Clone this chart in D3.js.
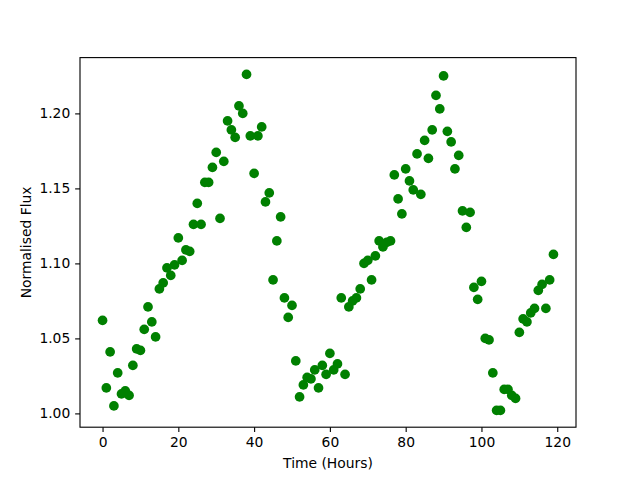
<!DOCTYPE html>
<html>
<head>
<meta charset="utf-8">
<script src="https://cdn.jsdelivr.net/npm/d3@7"></script>
<style>
  body { margin: 0; background: #fff; }
  svg { font-family: "DejaVu Sans", sans-serif; }
</style>
</head>
<body>
<div id="chart"></div>
<script>
// time in hours, one sample per hour
const hours = d3.range(0, 120);

const flux = [
  1.062, 1.017, 1.041, 1.005, 1.027, 1.013, 1.015, 1.012, 1.032, 1.043,
  1.042, 1.056, 1.071, 1.061, 1.051, 1.083, 1.087, 1.097, 1.092, 1.099,
  1.117, 1.102, 1.109, 1.108, 1.126, 1.140, 1.126, 1.154, 1.154, 1.164,
  1.174, 1.130, 1.168, 1.195, 1.189, 1.184, 1.205, 1.200, 1.226, 1.185,
  1.160, 1.185, 1.191, 1.141, 1.147, 1.089, 1.115, 1.131, 1.077, 1.064,
  1.072, 1.035, 1.011, 1.019, 1.024, 1.023, 1.029, 1.017, 1.032, 1.026,
  1.040, 1.029, 1.033, 1.077, 1.026, 1.071, 1.075, 1.077, 1.083, 1.100,
  1.102, 1.089, 1.105, 1.115, 1.111, 1.114, 1.115, 1.159, 1.143, 1.133,
  1.163, 1.155, 1.149, 1.173, 1.146, 1.182, 1.170, 1.189, 1.212, 1.203,
  1.225, 1.188, 1.181, 1.163, 1.172, 1.135, 1.124, 1.134, 1.084, 1.076,
  1.088, 1.050, 1.049, 1.027, 1.002, 1.002, 1.016, 1.016, 1.012, 1.010,
  1.054, 1.063, 1.061, 1.067, 1.070, 1.082, 1.086, 1.070, 1.089, 1.106
];

const xTicks = [0, 20, 40, 60, 80, 100, 120];
const yTicks = [1.00, 1.05, 1.10, 1.15, 1.20];

const width = 640, height = 480;
const margin = { top: 57.6, right: 64, bottom: 52.8, left: 80 };
const pt = 100 / 72;

const svg = d3.select("#chart").append("svg")
  .attr("width", width)
  .attr("height", height);

// matplotlib style 5% padding around the data
function padded(extent) {
  const pad = (extent[1] - extent[0]) * 0.05;
  return [extent[0] - pad, extent[1] + pad];
}

const x = d3.scaleLinear()
  .domain(padded(d3.extent(hours)))
  .range([margin.left, width - margin.right]);

const y = d3.scaleLinear()
  .domain(padded(d3.extent(flux)))
  .range([height - margin.bottom, margin.top]);

const data = hours.map((h, i) => [h, flux[i]]);

svg.append("g")
  .selectAll("circle")
  .data(data)
  .join("circle")
  .attr("cx", (d) => x(d[0]))
  .attr("cy", (d) => y(d[1]))
  .attr("r", 3 * pt + 0.5 * pt)
  .attr("fill", "#008000");

const fontSize = 10 * pt;

const xAxis = svg.append("g")
  .attr("transform", `translate(0,${height - margin.bottom})`)
  .call(d3.axisBottom(x).tickValues(xTicks).tickFormat(d3.format("d"))
    .tickSize(3.5 * pt).tickPadding(3.5 * pt).tickSizeOuter(0));

const yAxis = svg.append("g")
  .attr("transform", `translate(${margin.left},0)`)
  .call(d3.axisLeft(y).tickValues(yTicks).tickFormat(d3.format(".2f"))
    .tickSize(3.5 * pt).tickPadding(3.5 * pt).tickSizeOuter(0));

[xAxis, yAxis].forEach((g) => {
  g.select(".domain").remove();
  g.selectAll(".tick line").attr("stroke", "#000").attr("stroke-width", 0.8 * pt);
  g.selectAll(".tick text")
    .attr("fill", "#000")
    .attr("font-size", fontSize)
    .attr("font-family", "DejaVu Sans, sans-serif");
});

// frame
svg.append("rect")
  .attr("x", margin.left)
  .attr("y", margin.top)
  .attr("width", width - margin.left - margin.right)
  .attr("height", height - margin.top - margin.bottom)
  .attr("fill", "none")
  .attr("stroke", "#000")
  .attr("stroke-width", 0.8 * pt);

svg.append("text")
  .attr("x", (margin.left + width - margin.right) / 2)
  .attr("y", 468)
  .attr("text-anchor", "middle")
  .attr("font-size", fontSize)
  .text("Time (Hours)");

svg.append("text")
  .attr("transform", `translate(31,${(margin.top + height - margin.bottom) / 2}) rotate(-90)`)
  .attr("text-anchor", "middle")
  .attr("font-size", fontSize)
  .text("Normalised Flux");
</script>
</body>
</html>
